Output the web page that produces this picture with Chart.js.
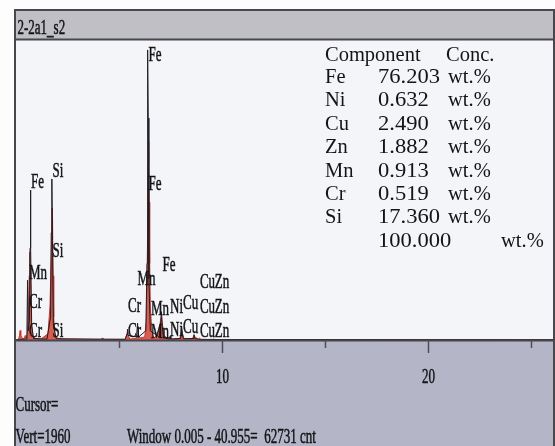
<!DOCTYPE html>
<html>
<head>
<meta charset="utf-8">
<title>2-2a1_s2</title>
<script src="https://cdn.jsdelivr.net/npm/chart.js@4.4.1/dist/chart.umd.min.js"></script>
<style>
  html, body { margin: 0; padding: 0; background: #fdfdfd; }
  canvas { display: block; }
</style>
</head>
<body>
<canvas id="eds" width="555" height="446"></canvas>
<script>
/* EDS spectrum 2-2a1_s2 */

const spectrumTitle = '2-2a1_s2';

// main spectrum (black), keV / counts
const spectrumKeV = [0.00, 0.15, 0.50, 0.53, 0.56, 0.59, 0.65, 0.68, 0.70, 0.72, 0.76, 0.85,
  1.50, 1.68, 1.71, 1.74, 1.77, 1.81, 1.95, 5.30, 5.39, 5.41, 5.44, 5.85, 5.90, 5.95,
  6.30, 6.36, 6.38, 6.40, 6.42, 6.45, 6.52, 6.95, 7.03, 7.06, 7.09, 7.15,
  7.45, 7.48, 7.52, 7.99, 8.04, 8.07, 8.12, 8.60, 8.64, 8.68, 9.00, 26.2];
const spectrumCounts = [0, 3, 6, 60, 390, 60, 120, 600, 980, 600, 100, 10,
  5, 150, 700, 1052, 650, 100, 8, 4, 40, 70, 30, 20, 110, 20,
  60, 500, 1500, 1895, 1450, 400, 60, 20, 120, 185, 110, 15,
  6, 25, 6, 10, 90, 50, 8, 10, 35, 8, 3, 2];

// overlay spectrum (red)
const overlayKeV = [0.00, 0.12, 0.17, 0.20, 0.23, 0.28, 0.33, 0.40, 0.45, 0.50, 0.55, 0.60, 0.64, 0.67, 0.71, 0.75, 0.81, 0.95,
  1.20, 1.55, 1.65, 1.72, 1.75, 1.77, 1.80, 1.83, 1.88, 1.95, 2.20, 3.50, 4.10, 4.20, 4.30,
  5.30, 5.38, 5.41, 5.45, 5.52, 5.82, 5.90, 5.97, 6.25, 6.33, 6.38, 6.42, 6.44, 6.46, 6.49, 6.52, 6.58, 6.64, 6.70,
  6.85, 6.95, 7.02, 7.06, 7.10, 7.18, 7.40, 7.48, 7.55, 7.95, 8.03, 8.05, 8.08, 8.16,
  8.55, 8.62, 8.64, 8.70, 8.85, 8.91, 8.97, 9.20, 9.55, 9.58, 9.65, 10.5, 15.0, 20.0, 26.2];
const overlayCounts = [0, 4, 30, 62, 28, 18, 8, 12, 30, 14, 40, 150, 420, 575, 330, 110, 30, 10,
  6, 40, 220, 620, 860, 820, 420, 150, 40, 15, 6, 4, 4, 12, 4,
  5, 35, 55, 30, 6, 10, 30, 12, 20, 120, 600, 1150, 1300, 900, 500, 220, 80, 30, 15,
  30, 70, 130, 160, 110, 30, 6, 18, 6, 10, 45, 60, 40, 8,
  6, 25, 30, 18, 6, 12, 5, 4, 4, 8, 3, 3, 2, 2, 1];

// element labels: left edge keV, baseline counts, text
const labelKeV = [0.73, 0.63, 0.63, 0.63, 1.77, 1.77, 1.77, 6.43, 6.43, 5.90, 5.44, 5.44, 6.55, 6.55,
  7.11, 7.48, 7.48, 8.11, 8.11, 8.93, 8.93, 8.93, 9.65, 9.65, 9.65];
const labelCounts = [993, 399, 209, 20, 1065, 542, 20, 1823, 980, 359, 183, 20, 163, 13,
  451, 176, 26, 203, 46, 340, 176, 20, 340, 176, 20];
const labelText = ['Fe', 'Mn', 'Cr', 'Cr', 'Si', 'Si', 'Si', 'Fe', 'Fe', 'Mn', 'Cr', 'Cr', 'Mn', 'Mn',
  'Fe', 'Ni', 'Ni', 'Cu', 'Cu', 'Cu', 'Cu', 'Cu', 'Zn', 'Zn', 'Zn'];

// axis
const keVMin = -0.05;
const keVMax = 26.12;
const vertFullScale = 1960;
const tickValues = [5, 10, 15, 20, 25];
const tickLabels = ['', '10', '', '20', ''];

// quantification table
const componentNames = ['Fe', 'Ni', 'Cu', 'Zn', 'Mn', 'Cr', 'Si'];
const componentConc = ['76.203', '0.632', '2.490', '1.882', '0.913', '0.519', '17.360'];
const concTotal = '100.000';

const footerCursor = 'Cursor=';
const footerVert = 'Vert=' + vertFullScale;
const footerWindow = 'Window 0.005 - 40.955=  62731 cnt';

const SERIF = '"Liberation Serif", "DejaVu Serif", serif';
const TEXT_DARK = '#141417';

// the instrument font is a narrow Times, squeeze it horizontally
function narrowText(ctx, text, x, y, size, align) {
  ctx.save();
  ctx.font = size + 'px ' + SERIF;
  ctx.textBaseline = 'alphabetic';
  const sx = 0.65;
  const w = ctx.measureText(text).width * sx;
  const left = align === 'center' ? x - w / 2 : x;
  ctx.translate(left, y);
  ctx.scale(sx, 1);
  ctx.textAlign = 'left';
  ctx.lineWidth = 0.5;
  ctx.strokeStyle = ctx.fillStyle;
  ctx.fillText(text, 0, 0);
  ctx.strokeText(text, 0, 0);
  ctx.restore();
}

function wideText(ctx, text, x, y, sx) {
  ctx.save();
  ctx.translate(x, y);
  ctx.scale(sx, 1);
  ctx.fillText(text, 0, 0);
  ctx.restore();
}

const framePlugin = {
  id: 'edsFrame',
  beforeDraw(chart) {
    const ctx = chart.ctx;
    const a = chart.chartArea;
    ctx.save();
    ctx.fillStyle = '#fdfdfd';
    ctx.fillRect(0, 0, chart.width, chart.height);
    ctx.fillStyle = '#f4f5f9';
    ctx.fillRect(15, 10, 540, 330);
    ctx.fillStyle = '#bfbfc5';
    ctx.fillRect(15, 10, 540, 29);
    ctx.fillStyle = '#b4b5c7';
    ctx.fillRect(15, a.bottom, 540, chart.height - a.bottom);
    ctx.restore();
  },
  afterDatasetsDraw(chart) {
    const ctx = chart.ctx;
    const a = chart.chartArea;
    const xs = chart.scales.x;
    const ys = chart.scales.y;

    ctx.save();
    ctx.fillStyle = TEXT_DARK;
    labelText.forEach((lab, i) => {
      narrowText(ctx, lab, xs.getPixelForValue(labelKeV[i]), ys.getPixelForValue(labelCounts[i]), 20);
    });

    // frame lines
    ctx.strokeStyle = '#47474d';
    ctx.lineWidth = 2;
    ctx.beginPath();
    ctx.moveTo(15, chart.height);
    ctx.lineTo(15, 10);
    ctx.lineTo(554, 10);
    ctx.lineTo(554, chart.height);
    ctx.stroke();
    ctx.beginPath();
    ctx.moveTo(15, 39.5);
    ctx.lineTo(554, 39.5);
    ctx.moveTo(15, a.bottom + 0.5);
    ctx.lineTo(554, a.bottom + 0.5);
    ctx.stroke();

    // energy axis ticks
    ctx.strokeStyle = '#4d4d55';
    ctx.lineWidth = 1.5;
    tickValues.forEach((v, i) => {
      const px = Math.round(xs.getPixelForValue(v)) + 0.5;
      const len = tickLabels[i] ? 13 : 8;
      ctx.beginPath();
      ctx.moveTo(px, a.bottom);
      ctx.lineTo(px, a.bottom + len);
      ctx.stroke();
      if (tickLabels[i]) narrowText(ctx, tickLabels[i], px, 383, 20, 'center');
    });

    narrowText(ctx, spectrumTitle, 17.5, 34, 20);
    narrowText(ctx, footerCursor, 15.5, 411, 20);
    narrowText(ctx, footerVert, 15.5, 443, 20);
    narrowText(ctx, footerWindow, 127, 443, 20);

    // quantification table
    ctx.font = '20.5px ' + SERIF;
    ctx.textAlign = 'left';
    ctx.textBaseline = 'alphabetic';
    ctx.fillText('Component', 325, 61);
    ctx.fillText('Conc.', 446, 61);
    componentNames.forEach((n, i) => {
      const y = 83 + i * 23.4;
      ctx.fillText(n, 325, y);
      wideText(ctx, componentConc[i], 378, y, 1.1);
      ctx.fillText('wt.%', 448, y);
    });
    const yTot = 83 + componentNames.length * 23.4;
    wideText(ctx, concTotal, 378, yTot, 1.1);
    ctx.fillText('wt.%', 501, yTot);
    ctx.restore();
  }
};

const ctx = document.getElementById('eds').getContext('2d');

new Chart(ctx, {
  type: 'line',
  data: {
    datasets: [
      {
        label: 'spectrum',
        data: spectrumKeV.map((e, i) => ({ x: e, y: spectrumCounts[i] })),
        borderColor: '#1e1e24',
        borderWidth: 1,
        fill: false,
        pointRadius: 0,
        tension: 0,
        order: 0,
      },
      {
        label: 'overlay',
        data: overlayKeV.map((e, i) => ({ x: e, y: overlayCounts[i] })),
        borderColor: '#c9352a',
        backgroundColor: 'rgba(208, 66, 50, 0.85)',
        borderWidth: 1,
        fill: 'origin',
        pointRadius: 0,
        tension: 0,
        order: 1,
      },
    ],
  },
  options: {
    responsive: false,
    animation: false,
    devicePixelRatio: 1,
    layout: { padding: { left: 15, top: 40, right: 1, bottom: 106 } },
    plugins: {
      legend: { display: false },
      tooltip: { enabled: false },
    },
    scales: {
      x: { type: 'linear', min: keVMin, max: keVMax, display: false, offset: false },
      y: { type: 'linear', min: 0, max: vertFullScale, display: false },
    },
  },
  plugins: [framePlugin],
});
</script>
</body>
</html>
